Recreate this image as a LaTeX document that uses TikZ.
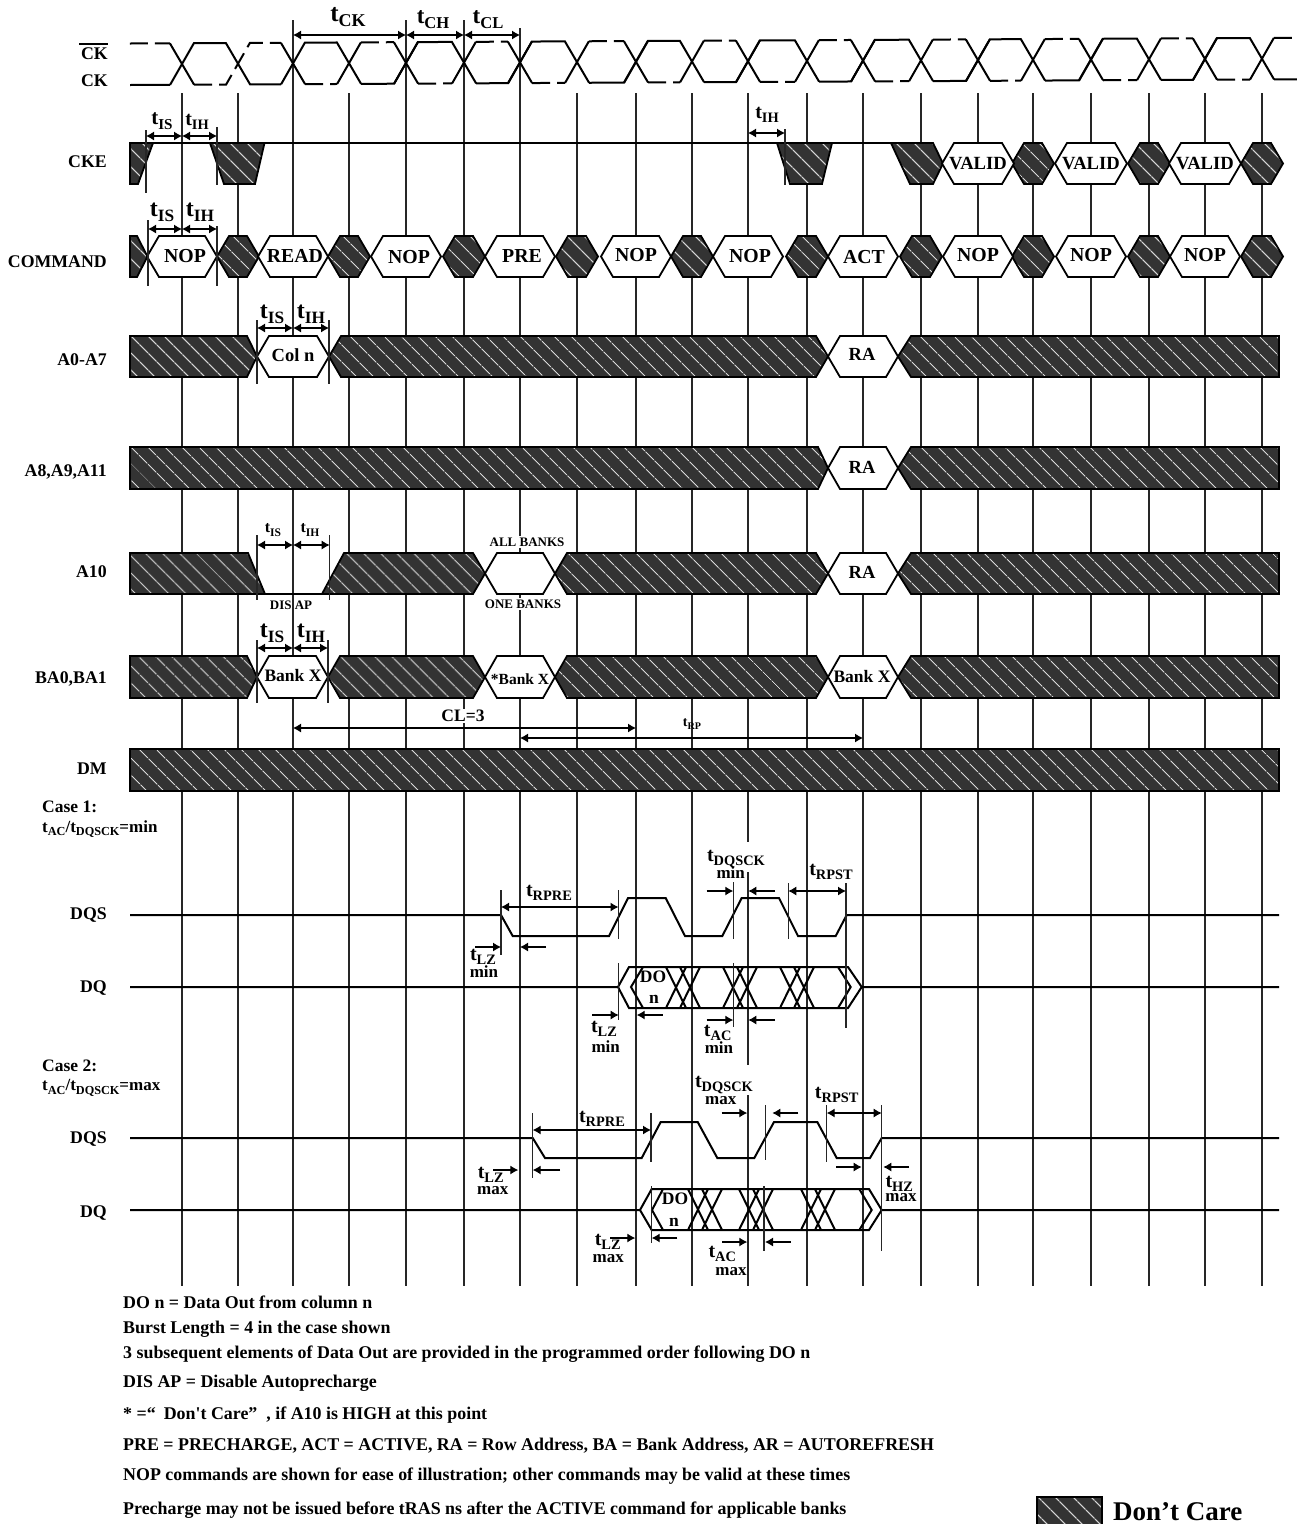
\documentclass[tikz,border=0pt]{standalone}
\usepackage{fontspec}
\setmainfont{Liberation Serif}[Ligatures=TeXOff]
\usetikzlibrary{arrows.meta,patterns.meta}
\definecolor{hatchdark}{HTML}{333333}
\newcommand{\tsub}[1]{t\raisebox{-.22em}{\scalebox{.72}{#1}}}
% style, x left, x right, top, bottom
\newcommand{\hexbox}[5]{\draw[#1] (#2,{(#4+#5)/2}) -- (#2+12,#4) -- (#3-12,#4) -- (#3,{(#4+#5)/2})
  -- (#3-12,#5) -- (#2+12,#5) -- cycle;}
% band with an open left end
\newcommand{\leftband}[3]{\draw[dontcare] (130,#2) -- (#1-10,#2) -- (#1,{(#2+#3)/2}) -- (#1-10,#3) -- (130,#3) -- cycle;}
\newcommand{\rightband}[3]{\draw[dontcare] (1279,#2) -- (#1+13,#2) -- (#1,{(#2+#3)/2}) -- (#1+13,#3) -- (1279,#3) -- cycle;}
\begin{document}
\begin{tikzpicture}[
  x=1pt, y=-1pt,
  >={Latex[length=8pt,width=9pt]},
  every node/.style={inner sep=0pt},
  sz/.style={font=\bfseries\fontsize{#1}{#1}\selectfont},
  signame/.style={sz=17.8, anchor=east},
  note/.style={sz=17.9, anchor=west},
  mask/.style={fill=white, inner sep=1.5pt},
  gridline/.style={line width=1.3pt, black!85},
  tickline/.style={line width=1.2pt, black!85},
  wave/.style={line width=2pt, line join=miter},
  dashwave/.style={wave, dash pattern=on 18pt off 7pt},
  dimboth/.style={<->, line width=1.1pt},
  dimin/.style={->, line width=1.1pt},
  whitehex/.style={draw=black, fill=white, line width=1.8pt},
  dontcare/.style={draw=black, line width=1.8pt, preaction={fill=hatchdark},
    pattern={Lines[angle=-45,distance=13pt,line width=1.2pt]}, pattern color=black!15},
]
  \useasboundingbox (0,0) rectangle (1297,1524);

  % clock lines
  \foreach \xa in {182,238,349,577,636,692,807,863,921,978,1033,1091,1149,1205,1262}
    \draw[gridline] (\xa,93) -- (\xa,1286);
  \draw[gridline] (293,20) -- (293,1286);
  \draw[gridline] (406,20) -- (406,1286);
  \draw[gridline] (464,20) -- (464,1286);
  \draw[gridline] (520,28) -- (520,1286);
  \draw[gridline] (748,93) -- (748,842) (748,872) -- (748,1065) (748,1095) -- (748,1286);

  % clock
  \begin{scope}[rotate around={.28:(130,64)}]
    \draw[dashwave] (130,43.5) -- (170,43.5);
    \draw[wave] (130,85) -- (170,85);
    \draw[wave] (170,43.5) -- (194,85) (170,85) -- (194,43.5) -- (226,43.5) -- (250,85) -- (281,85);
    \draw[dashwave] (194,85) -- (226,85) -- (250,43.5) -- (281,43.5);
    \foreach \xa/\xb in {293/349,406/464,520/577,636/692,748/807,863/921,978/1033,1091/1149,1205/1262} {
      \draw[wave] (\xa-12,43.5) -- (\xa+12,85) (\xa-12,85) -- (\xa+12,43.5) -- (\xb-12,43.5) -- (\xb+12,85);
      \draw[dashwave] (\xa+12,85) -- (\xb-12,85);
    }
    \foreach \xa/\xb in {349/406,464/520,577/636,692/748,807/863,921/978,1033/1091,1149/1205,1262/1320} {
      \draw[wave] (\xa-12,85) -- (\xa+12,43.5) (\xa+12,85) -- (\xb-12,85) -- (\xb+12,43.5);
      \draw[dashwave] (\xa+12,43.5) -- (\xb-12,43.5);
    }
  \end{scope}

  % CKE
  \draw[wave] (130,143) -- (895,143);
  \draw[dontcare] (130,143) -- (153,143) -- (138,184) -- (130,184) -- cycle;
  \draw[dontcare] (210,143) -- (264.5,143) -- (255,184) -- (224,184) -- cycle;
  \draw[dontcare] (777,143) -- (832,143) -- (822,184) -- (790,184) -- cycle;
  \draw[dontcare] (891,143) -- (933,143) -- (943,163.5) -- (933,184) -- (910,184) -- cycle;
  \foreach \xa in {1033,1149,1262} {
    \hexbox{dontcare}{\xa-21}{\xa+21}{143}{184}
  }
  \foreach \xa in {978,1091,1205} {
    \hexbox{whitehex}{\xa-36}{\xa+36}{143}{184}
  }
  \node[sz=18.6] (valida) at (978,163.5) {VALID};
  \node[sz=18.6] (validb) at (1091,163) {VALID};
  \node[sz=18.6] (validc) at (1205,163) {VALID};

  % COMMAND
  \draw[dontcare] (130,236) -- (137,236) -- (147.5,256.5) -- (137,277) -- (130,277) -- cycle;
  \foreach \xa in {238,349,464,577,692,807,921,1033,1149,1262} {
    \hexbox{dontcare}{\xa-21}{\xa+21}{236}{277}
  }
  \foreach \xa in {182,293,406,520,636,748,863,978,1091,1205} {
    \hexbox{whitehex}{\xa-35}{\xa+35}{236}{277}
  }
  \node[sz=19.8] (nopa) at (185,256) {NOP};
  \node[sz=19.8] (read) at (295,256) {READ};
  \node[sz=19.8] (nopb) at (409,257) {NOP};
  \node[sz=19.8] (pre) at (522,256) {PRE};
  \node[sz=19.8] (nopc) at (636,255) {NOP};
  \node[sz=19.8] (nopd) at (750,256) {NOP};
  \node[sz=19.8] (act) at (864,257) {ACT};
  \node[sz=19.8] (nope) at (978,255) {NOP};
  \node[sz=19.8] (nopf) at (1091,255) {NOP};
  \node[sz=19.8] (nopg) at (1205,255) {NOP};

  % A0-A7
  \leftband{257}{336}{377}
  \hexbox{whitehex}{257}{329}{336}{377}
  \draw[dontcare] (329,356.5) -- (341,336) -- (816,336) -- (828,356.5) -- (816,377) -- (341,377) -- cycle;
  \hexbox{whitehex}{828}{898}{336}{377}
  \rightband{898}{336}{377}
  \node[sz=18.5] (coln) at (293,355) {Col n};
  \node[sz=18.5] (raa) at (862,354) {RA};

  % A8,A9,A11
  \leftband{828}{447}{489}
  \hexbox{whitehex}{828}{898}{447}{489}
  \rightband{898}{447}{489}
  \node[sz=18.5] (rab) at (862,467) {RA};

  % A10
  \draw[wave] (265,594) -- (322,594);
  \draw[dontcare] (130,553) -- (248,553) -- (265,594) -- (130,594) -- cycle;
  \draw[dontcare] (322,594) -- (344,553) -- (473,553) -- (485,573.5) -- (473,594) -- cycle;
  \hexbox{whitehex}{485}{555}{553}{594}
  \draw[dontcare] (555,573.5) -- (567,553) -- (816,553) -- (828,573.5) -- (816,594) -- (567,594) -- cycle;
  \hexbox{whitehex}{828}{898}{553}{594}
  \rightband{898}{553}{594}
  \node[sz=18.5] (rac) at (862,572) {RA};
  \node[sz=13, mask] (allbanks) at (527,542) {ALL BANKS};
  \node[sz=13, mask] (onebanks) at (523,604) {ONE BANKS};
  \node[sz=13] (disap) at (291,605) {DIS AP};

  % BA0,BA1
  \leftband{257}{656}{698}
  \hexbox{whitehex}{257}{328}{656}{698}
  \draw[dontcare] (328,677) -- (340,656) -- (473,656) -- (485,677) -- (473,698) -- (340,698) -- cycle;
  \hexbox{whitehex}{485}{555}{656}{698}
  \draw[dontcare] (555,677) -- (567,656) -- (816,656) -- (828,677) -- (816,698) -- (567,698) -- cycle;
  \hexbox{whitehex}{828}{898}{656}{698}
  \rightband{898}{656}{698}
  \node[sz=17.5] (bankxa) at (293,676) {Bank X};
  \node[sz=15.5] (bankxb) at (520,679) {*Bank X};
  \node[sz=17.5] (bankxc) at (862,677) {Bank X};

  % DM
  \draw[dontcare] (130,749) rectangle (1279,791);

  % Case 1
  \draw[wave] (130,915) -- (501,915) -- (512.7,936) -- (609,936) -- (628,898) -- (665.7,898) -- (685,936)
    -- (722.3,936) -- (741.7,898) -- (779,898) -- (798,936) -- (835.7,936) -- (846.7,915) -- (1279,915);
  \draw[wave] (130,987) -- (618,987) -- (629,967) -- (848,967) -- (861.7,987) -- (1279,987)
    (618,987) -- (629,1008) -- (848,1008) -- (861.7,987);
  \draw[wave] (643,967) -- (631,987) -- (643,1008) (838,967) -- (850.7,987) -- (838,1008);
  \foreach \xa in {683,740,797}
    \draw[wave] (\xa-17,967) -- (\xa+3,1008) (\xa-3,967) -- (\xa+17,1008)
      (\xa+3,967) -- (\xa-17,1008) (\xa+17,967) -- (\xa-3,1008);
  \node[sz=17.5] (doa) at (653,977) {DO};
  \node[sz=17.5] (na) at (654,999) {n};

  % Case 2
  \draw[wave] (130,1138) -- (532.7,1138) -- (545,1158) -- (641.7,1158) -- (660.7,1122) -- (697.7,1122) -- (717.3,1158)
    -- (754.3,1158) -- (774,1122) -- (817.3,1122) -- (836.7,1158) -- (870,1158) -- (881.7,1138) -- (1279,1138);
  \draw[wave] (130,1210) -- (640,1210) -- (651.7,1189) -- (869,1189) -- (881.7,1210) -- (1279,1210)
    (640,1210) -- (651.7,1230) -- (869,1230) -- (881.7,1210);
  \draw[wave] (663,1189) -- (652,1210) -- (663,1230) (859.3,1189) -- (871.7,1210) -- (859.3,1230);
  \foreach \xa in {705,756,818}
    \draw[wave] (\xa-17,1189) -- (\xa+3,1230) (\xa-3,1189) -- (\xa+17,1230)
      (\xa+3,1189) -- (\xa-17,1230) (\xa+17,1189) -- (\xa-3,1230);
  \node[sz=17.5] (dob) at (675,1199) {DO};
  \node[sz=17.5] (nb) at (674,1222) {n};

  % signal names
  \node[signame] (ckbar) at (108,54) {CK};
  \draw[line width=1.5pt] (79,44) -- (108,44);
  \node[signame] (ck) at (108,81) {CK};
  \node[signame] (cke) at (107,162) {CKE};
  \node[signame] (command) at (107,261.5) {COMMAND};
  \node[signame] (aseven) at (107,360) {A0-A7};
  \node[signame] (aeleven) at (107,472) {A8,A9,A11};
  \node[signame] (aten) at (107,572) {A10};
  \node[signame] (baone) at (107,679) {BA0,BA1};
  \node[signame] (dm) at (107,769) {DM};
  \node[signame] (dqsa) at (107,915) {DQS};
  \node[signame] (dqa) at (107,988) {DQ};
  \node[signame] (dqsb) at (107,1139) {DQS};
  \node[signame] (dqb) at (107,1213) {DQ};
  \node[sz=17.5, anchor=west] (casea) at (42,807) {Case 1:};
  \node[sz=17, anchor=west] (caseat) at (42,829) {\tsub{AC}/\tsub{DQSCK}=min};
  \node[sz=17.5, anchor=west] (caseb) at (42,1066) {Case 2:};
  \node[sz=17, anchor=west] (casebt) at (42,1088) {\tsub{AC}/\tsub{DQSCK}=max};

  % clock timings
  \draw[dimboth] (293,35) -- (406,35);
  \draw[dimboth] (406,35) -- (464,35);
  \draw[dimboth] (464,35) -- (520,35);
  \node[sz=25] (tck) at (348,17) {\tsub{CK}};
  \node[sz=23] (tch) at (433,20) {\tsub{CH}};
  \node[sz=23] (tcl) at (488,20) {\tsub{CL}};

  % CKE timings
  \draw[tickline] (146,130) -- (146,193) (217,127) -- (217,185) (785,129) -- (785,185);
  \draw[dimboth] (146,136) -- (182,136);
  \draw[dimboth] (182,136) -- (217,136);
  \draw[dimboth] (748,133) -- (785,133);
  \node[sz=21] (tisa) at (162,121) {\tsub{IS}};
  \node[sz=20] (tiha) at (197,122) {\tsub{IH}};
  \node[sz=20] (tihb) at (767,115) {\tsub{IH}};

  % COMMAND timings
  \draw[tickline] (148,220) -- (148,286) (217,226) -- (217,286);
  \draw[dimboth] (148,229) -- (182,229);
  \draw[dimboth] (182,229) -- (217,229);
  \node[sz=24] (tisb) at (162,212) {\tsub{IS}};
  \node[sz=24] (tihc) at (200,212) {\tsub{IH}};

  % A0-A7 timings
  \draw[tickline] (257,320) -- (257,384) (329,320) -- (329,384);
  \draw[dimboth] (257,328) -- (293,328);
  \draw[dimboth] (293,328) -- (329,328);
  \node[sz=24] (tisc) at (272,314) {\tsub{IS}};
  \node[sz=24] (tihd) at (311,314) {\tsub{IH}};

  % A10 timings
  \draw[tickline] (257,535) -- (257,600) (329.7,535) -- (329.7,600);
  \draw[dimboth] (257,545) -- (293,545);
  \draw[dimboth] (293,545) -- (329.7,545);
  \node[sz=16] (tisd) at (273,530) {\tsub{IS}};
  \node[sz=16] (tihe) at (310,530) {\tsub{IH}};

  % BA timings
  \draw[tickline] (257,640) -- (257,703) (328,640) -- (328,703);
  \draw[dimboth] (257,648) -- (293,648);
  \draw[dimboth] (293,648) -- (328,648);
  \node[sz=24] (tise) at (272,633) {\tsub{IS}};
  \node[sz=24] (tihf) at (311,633) {\tsub{IH}};
  \draw[dimboth] (293,728) -- (636,728);
  \draw[dimboth] (520,738) -- (863,738);
  \node[sz=17.5, mask] (cl) at (463,716) {CL=3};
  \node[sz=14] (trp) at (692,724) {\tsub{RP}};

  % DQS and DQ timings, case 1
  \draw[tickline] (501,890) -- (501,955) (618.5,890) -- (618.5,939) (618.7,963) -- (618.7,1020)
    (733.3,882) -- (733.3,939) (733.3,963) -- (733.3,1027) (788.3,883) -- (788.3,939) (846,883) -- (846,1028);
  \draw[dimboth] (501,907) -- (618.5,907);
  \draw[dimin] (475,947) -- (501,947);
  \draw[dimin] (546,947) -- (520,947);
  \draw[dimin] (592.3,1015) -- (618.7,1015);
  \draw[dimin] (662.7,1015) -- (636.7,1015);
  \draw[dimin] (706.7,891) -- (733.3,891);
  \draw[dimin] (775,891) -- (748.3,891);
  \draw[dimboth] (788.3,891) -- (846,891);
  \draw[dimin] (706.7,1020) -- (733.3,1020);
  \draw[dimin] (775,1020) -- (748.3,1020);
  \node[sz=20] (trprea) at (549,893) {\tsub{RPRE}};
  \node[sz=20] (tlza) at (483,957) {\tsub{LZ}};
  \node[sz=17] (mina) at (484,972) {min};
  \node[sz=20] (tlzb) at (604,1029) {\tsub{LZ}};
  \node[sz=17] (minb) at (605.7,1047) {min};
  \node[sz=20] (tdqscka) at (736,859) {\tsub{DQSCK}};
  \node[sz=17] (minc) at (730.7,873) {min};
  \node[sz=20] (trpsta) at (831,872) {\tsub{RPST}};
  \node[sz=20] (taca) at (717.7,1033) {\tsub{AC}};
  \node[sz=17] (mind) at (719,1048) {min};

  % DQS and DQ timings, case 2
  \draw[tickline] (532.7,1113) -- (532.7,1178) (651,1113) -- (651,1162) (651.7,1186) -- (651.7,1243)
    (765.7,1105) -- (765.7,1160) (764,1186) -- (764,1251) (826.7,1105) -- (826.7,1162) (881.7,1105) -- (881.7,1251);
  \draw[dimboth] (532.7,1130) -- (651,1130);
  \draw[dimin] (493,1170) -- (518.3,1170);
  \draw[dimin] (560,1170) -- (532.7,1170);
  \draw[dimin] (610,1238) -- (635.3,1238);
  \draw[dimin] (677.3,1238) -- (651.7,1238);
  \draw[dimin] (721.7,1113) -- (747.3,1113);
  \draw[dimin] (798.3,1113) -- (772.3,1113);
  \draw[dimboth] (826.7,1113) -- (881.7,1113);
  \draw[dimin] (836,1167) -- (861.7,1167);
  \draw[dimin] (909,1167) -- (883.3,1167);
  \draw[dimin] (722.3,1242) -- (747.3,1242);
  \draw[dimin] (790.7,1242) -- (765,1242);
  \node[sz=20] (trpreb) at (602,1119) {\tsub{RPRE}};
  \node[sz=20] (tlzc) at (490.7,1175) {\tsub{LZ}};
  \node[sz=17] (maxa) at (492.7,1191) {max};
  \node[sz=20] (tlzd) at (607.7,1242) {\tsub{LZ}};
  \node[sz=17] (maxb) at (608.3,1259) {max};
  \node[sz=20] (tdqsckb) at (724,1085) {\tsub{DQSCK}};
  \node[sz=17] (maxc) at (720.7,1101) {max};
  \node[sz=20] (trpstb) at (836.7,1095) {\tsub{RPST}};
  \node[sz=20] (thz) at (899.3,1184) {\tsub{HZ}};
  \node[sz=17] (maxd) at (901,1198) {max};
  \node[sz=20] (tacb) at (722.3,1254) {\tsub{AC}};
  \node[sz=17] (maxe) at (731,1272) {max};

  % notes
  \node[note] (noteo) at (123,1302.7) {DO n = Data Out from column n};
  \node[note] (notea) at (123,1329.5) {Burst Length = 4 in the case shown};
  \node[note] (noteb) at (123,1354) {3 subsequent elements of Data Out are provided in the programmed order following DO n};
  \node[note] (notec) at (123,1383.5) {DIS AP = Disable Autoprecharge};
  \node[note] (noted) at (123,1415) {* =“\hspace{8pt}Don't Care”\hspace{9pt}, if A10 is HIGH at this point};
  \node[note] (notee) at (123,1445.7) {PRE = PRECHARGE, ACT = ACTIVE, RA = Row Address, BA = Bank Address, AR = AUTOREFRESH};
  \node[note] (notef) at (123,1476) {NOP commands are shown for ease of illustration; other commands may be valid at these times};
  \node[note] (noteg) at (123,1510) {Precharge may not be issued before tRAS ns after the ACTIVE command for applicable banks};

  % legend
  \draw[dontcare] (1037,1497) rectangle (1102,1526);
  \node[sz=27, anchor=west] (dontcaretext) at (1113,1512) {Don’t Care};
\end{tikzpicture}
\end{document}
